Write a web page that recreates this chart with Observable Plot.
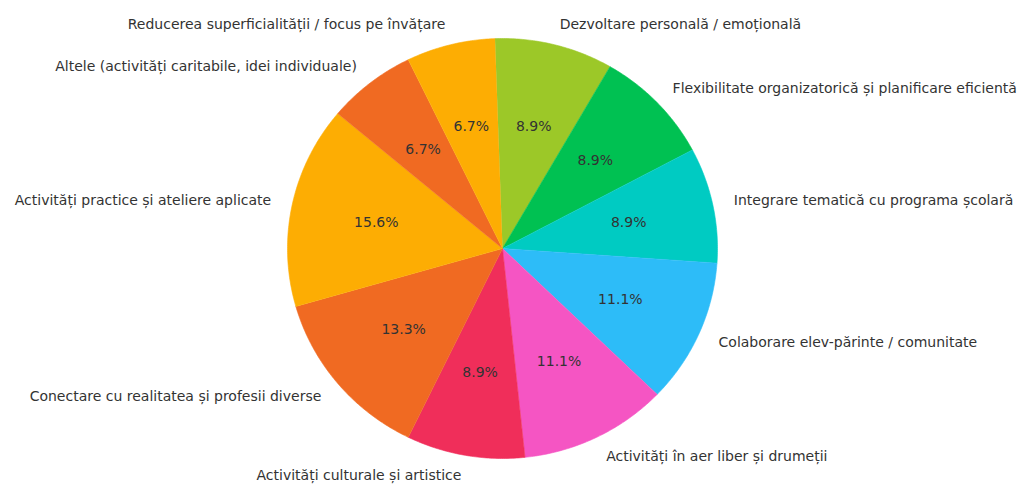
<!DOCTYPE html>
<html><head><meta charset="utf-8">
<script src="https://cdn.jsdelivr.net/npm/d3@7"></script>
<script src="https://cdn.jsdelivr.net/npm/@observablehq/plot@0.6"></script>
<style>body{margin:0;background:#fff}</style>
</head><body><div id="chart"></div>
<script>
const categories = [
  "Dezvoltare personală / emoțională",
  "Flexibilitate organizatorică și planificare eficientă",
  "Integrare tematică cu programa școlară",
  "Colaborare elev-părinte / comunitate",
  "Activități în aer liber și drumeții",
  "Activități culturale și artistice",
  "Conectare cu realitatea și profesii diverse",
  "Activități practice și ateliere aplicate",
  "Altele (activități caritabile, idei individuale)",
  "Reducerea superficialității / focus pe învățare"
];
const counts = [4, 4, 4, 5, 5, 4, 6, 7, 3, 3];
const colors = ["#9cc828", "#00c152", "#00cbc2", "#2dbcf8", "#f555c3", "#f02e5a", "#f06a22", "#fdad03", "#f06a22", "#fdad03"];

const W = 1022, H = 484, cx = 502, cy = 248, rx = 215, ry = 210;
const total = d3.sum(counts);
const rows = categories.map((name, i) => ({name, count: counts[i]}));
const rot = -2 * Math.PI / 180;
const arcs = d3.pie().sort(null).value(d => d.count).startAngle(rot).endAngle(2 * Math.PI + rot)(rows);

const pts = [];
for (const a of arcs) {
  pts.push({name: a.data.name, x: 0, y: 0});
  const n = Math.max(2, Math.ceil((a.endAngle - a.startAngle) / 0.01));
  for (let k = 0; k <= n; k++) {
    const t = a.startAngle + (a.endAngle - a.startAngle) * k / n;
    pts.push({name: a.data.name, x: Math.sin(t), y: Math.cos(t)});
  }
}
const labels = arcs.map(a => {
  const m = (a.startAngle + a.endAngle) / 2;
  return {
    name: a.data.name,
    pct: (100 * a.data.count / total).toFixed(1) + "%",
    lx: 1.1 * Math.sin(m), ly: 1.1 * Math.cos(m),
    px: 0.6 * Math.sin(m), py: 0.6 * Math.cos(m)
  };
});

const font = "DejaVu Sans";
const chart = Plot.plot({
  width: W, height: H,
  margin: 0,
  x: {domain: [-cx / rx, (W - cx) / rx], axis: null},
  y: {domain: [-(H - cy) / ry, cy / ry], axis: null},
  color: {domain: categories, range: colors},
  style: {fontFamily: font, background: "#fff"},
  marks: [
    Plot.line(pts, {x: "x", y: "y", z: "name", fill: "name", stroke: "name", strokeWidth: 0.6}),
    Plot.text(labels.filter(d => d.lx > 0), {x: "lx", y: "ly", text: "name", textAnchor: "start", fontSize: 14, fill: "#333"}),
    Plot.text(labels.filter(d => d.lx <= 0), {x: "lx", y: "ly", text: "name", textAnchor: "end", fontSize: 14, fill: "#333"}),
    Plot.text(labels, {x: "px", y: "py", text: "pct", textAnchor: "middle", fontSize: 14, fill: "#333"})
  ]
});
document.getElementById("chart").appendChild(chart);
</script>
</body></html>
